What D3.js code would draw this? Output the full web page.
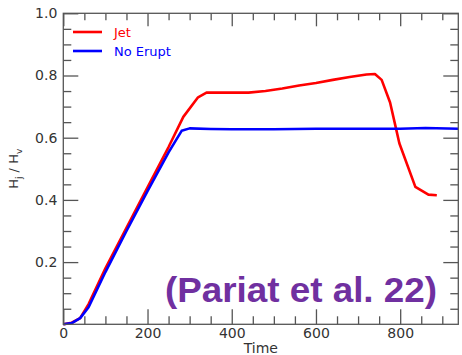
<!DOCTYPE html>
<html>
<head>
<meta charset="utf-8">
<script src="https://cdn.jsdelivr.net/npm/d3@7"></script>
<style>
  html, body { margin: 0; padding: 0; background: #fff; }
  svg { display: block; }
</style>
</head>
<body>
<svg id="chart" width="462" height="355"></svg>
<script>
// Helicity ratio time series
const jetTime = [0, 20, 40, 60, 100, 150, 200, 250, 285, 320, 340, 400, 440, 480, 520, 560, 600, 640, 680, 720, 740, 756, 776, 790, 798, 836, 867, 887];
const jetRatio = [0, 0.005, 0.02, 0.065, 0.18, 0.31, 0.44, 0.57, 0.667, 0.73, 0.745, 0.745, 0.745, 0.75, 0.758, 0.768, 0.776, 0.786, 0.795, 0.803, 0.805, 0.786, 0.713, 0.63, 0.582, 0.442, 0.417, 0.415];
const noEruptTime = [0, 20, 40, 60, 100, 150, 200, 250, 281, 300, 350, 400, 500, 600, 700, 800, 860, 938];
const noEruptRatio = [0, 0.004, 0.02, 0.055, 0.168, 0.3, 0.428, 0.553, 0.622, 0.630, 0.628, 0.627, 0.627, 0.629, 0.629, 0.629, 0.631, 0.629];

const xMajor = [0, 200, 400, 600, 800];
const yMajor = [0.2, 0.4, 0.6, 0.8, 1.0];
const seriesNames = ["Jet", "No Erupt"];
const seriesColors = ["#ff0000", "#0000ff"];

const svg = d3.select("#chart");
const mLeft = 63.3, mRight = 458.3, mTop = 13.3, mBottom = 324.3;
const axisColor = "#555";

const x = d3.scaleLinear().domain([0, 938]).range([mLeft, mRight]);
const y = d3.scaleLinear().domain([0, 1]).range([mBottom, mTop]);

const xMinor = d3.range(50, 938, 50).filter(v => v % 200 !== 0);
const yMinor = d3.range(1, 20).filter(k => k % 4 !== 0).map(k => k * 0.05);

// data lines
const lineGen = d3.line().x(d => x(d[0])).y(d => y(d[1]));
const series = [d3.zip(jetTime, jetRatio), d3.zip(noEruptTime, noEruptRatio)];
const plot = svg.append("g");
series.forEach((s, i) => {
  plot.append("path").datum(s)
    .attr("d", lineGen)
    .attr("fill", "none")
    .attr("stroke", seriesColors[i])
    .attr("stroke-width", 2.6)
    .attr("stroke-linejoin", "round");
});

// tick marks: axes oriented toward the plot interior so ticks point inward
function tickMarks(axisFn, scale, ticks, size, transform) {
  const a = axisFn(scale).tickValues(ticks).tickSize(size).tickFormat(() => "");
  const g = svg.append("g").attr("transform", transform).call(a);
  g.selectAll(".tick line").attr("stroke", axisColor).attr("stroke-width", 1.3);
  g.select(".domain").remove();
  return g;
}
tickMarks(d3.axisTop, x, xMajor, 15, `translate(0,${mBottom})`);
tickMarks(d3.axisTop, x, xMinor, 8, `translate(0,${mBottom})`);
tickMarks(d3.axisBottom, x, xMajor, 13, `translate(0,${mTop})`);
tickMarks(d3.axisBottom, x, xMinor, 7, `translate(0,${mTop})`);
tickMarks(d3.axisRight, y, yMajor, 15, `translate(${mLeft},0)`);
tickMarks(d3.axisRight, y, yMinor, 8, `translate(${mLeft},0)`);
tickMarks(d3.axisLeft, y, yMajor, 15, `translate(${mRight},0)`);
tickMarks(d3.axisLeft, y, yMinor, 8, `translate(${mRight},0)`);

// tick labels
function tickLabels(axisFn, scale, ticks, fmt, transform) {
  const a = axisFn(scale).tickValues(ticks).tickSize(0).tickPadding(6).tickFormat(fmt);
  const g = svg.append("g").attr("transform", transform).call(a);
  g.select(".domain").remove();
  g.selectAll("text").attr("fill", "#333")
    .style("font-family", "DejaVu Sans, sans-serif").style("font-size", "14px");
  return g;
}
const gb = tickLabels(d3.axisBottom, x, xMajor, d3.format("d"), `translate(0,${mBottom})`);
gb.selectAll("text").attr("y", 4).attr("dy", "0.71em");
tickLabels(d3.axisLeft, y, yMajor, d3.format(".1f"), `translate(${mLeft},0)`);

// frame
svg.append("rect").attr("x", mLeft).attr("y", mTop)
  .attr("width", mRight - mLeft).attr("height", mBottom - mTop)
  .attr("fill", "none").attr("stroke", axisColor).attr("stroke-width", 1.3);

// axis titles
svg.append("text").attr("x", (mLeft + mRight) / 2).attr("y", 353)
  .attr("text-anchor", "middle").attr("fill", "#333")
  .style("font-family", "DejaVu Sans, sans-serif").style("font-size", "14px")
  .text("Time");

const yl = svg.append("text")
  .attr("transform", `translate(18,${(mTop + mBottom) / 2}) rotate(-90)`)
  .attr("text-anchor", "middle").attr("fill", "#333")
  .style("font-family", "DejaVu Sans, sans-serif").style("font-size", "13px");
yl.append("tspan").text("H");
yl.append("tspan").attr("dy", 4).style("font-size", "9px").text("j");
yl.append("tspan").attr("dy", -4).text(" / H");
yl.append("tspan").attr("dy", 4).style("font-size", "9px").text("v");

// legend
seriesNames.forEach((n, i) => {
  const ly = 32 + i * 19;
  svg.append("line").attr("x1", 73).attr("x2", 102).attr("y1", ly).attr("y2", ly)
    .attr("stroke", seriesColors[i]).attr("stroke-width", 2.6);
  svg.append("text").attr("x", 114).attr("y", ly + 5)
    .attr("fill", seriesColors[i])
    .style("font-family", "DejaVu Sans, sans-serif").style("font-size", "13px")
    .text(n);
});

// citation
svg.append("text").attr("x", 165).attr("y", 302)
  .attr("fill", "#7030a0")
  .attr("textLength", 272).attr("lengthAdjust", "spacingAndGlyphs")
  .style("font-family", "Liberation Sans, Arial, sans-serif")
  .style("font-weight", "bold").style("font-size", "35px")
  .text("(Pariat et al. 22)");
</script>
</body>
</html>
